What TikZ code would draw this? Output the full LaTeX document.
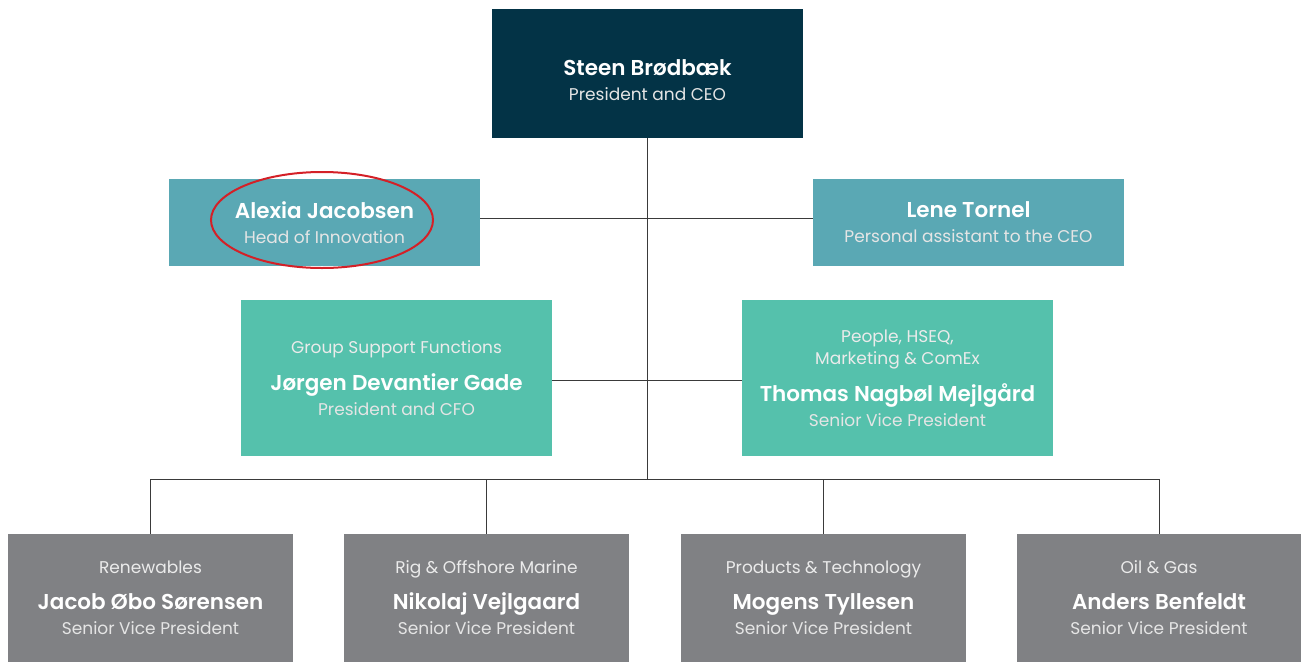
\documentclass[tikz,border=0pt]{standalone}
\usepackage{fontspec}
\setmainfont{Poppins}[BoldFont={Poppins SemiBold}]
\usetikzlibrary{positioning}
\usetikzlibrary{shapes.geometric}

\definecolor{ceoblue}{HTML}{033346}
\definecolor{staffteal}{HTML}{5AA8B4}
\definecolor{groupgreen}{HTML}{55C1AC}
\definecolor{unitgrey}{HTML}{808184}
\definecolor{linegrey}{HTML}{3A3A3A}
\definecolor{ringred}{HTML}{D42027}

\newcommand{\pname}[1]{{\fontsize{21.5}{25}\selectfont\bfseries\color{white}#1}}
\newcommand{\prole}[1]{{\fontsize{17}{25}\selectfont\color{white!90!black}#1}}
\newcommand{\punit}[1]{{\fontsize{17}{25}\selectfont\color{white!92!black}#1}}

\tikzset{
  orgbox/.style={inner sep=0pt, minimum width=311pt, align=center, font=\fontsize{17}{25}\selectfont},
  ceobox/.style={orgbox, fill=ceoblue, minimum height=129pt},
  staffbox/.style={orgbox, fill=staffteal, minimum height=87pt},
  groupbox/.style={orgbox, fill=groupgreen, minimum height=156pt},
  unitbox/.style={orgbox, fill=unitgrey, minimum width=285pt, minimum height=128pt},
  link/.style={draw=linegrey, line width=1pt},
  ring/.style={ellipse, draw=ringred, line width=2pt, minimum width=222pt, minimum height=96pt, inner sep=0pt}
}

\begin{document}
\begin{tikzpicture}[x=1pt, y=-1pt]
  \useasboundingbox (0,0) rectangle (1301,662);

  % top
  \node[ceobox] (ceo) at (647.5,73.5) {\\[4pt]\pname{Steen Brødbæk}\\\prole{President and CEO}};

  % staff
  \node[staffbox] (alexia) at (324.5,222.5) {\pname{Alexia Jacobsen}\\\prole{Head of Innovation}};
  \node[staffbox] (lene) at (968.5,222.5) {\pname{Lene Tornel}\\\prole{Personal assistant to the CEO}};

  % group functions
  \node[groupbox] (jorgen) at (396.5,378) {\punit{Group Support Functions}\\[12pt]\pname{Jørgen Devantier Gade}\\\prole{President and CFO}};
  \node[groupbox] (thomas) at (897.5,378) {\punit{People, HSEQ,}\\[-3pt]\punit{Marketing \& ComEx}\\[12pt]\pname{Thomas Nagbøl Mejlgård}\\\prole{Senior Vice President}};

  % business units
  \node[unitbox] (renew) at (150.5,598) {\punit{Renewables}\\[11pt]\pname{Jacob Øbo Sørensen}\\\prole{Senior Vice President}};
  \node[unitbox] (rig) at (486.5,598) {\punit{Rig \& Offshore Marine}\\[11pt]\pname{Nikolaj Vejlgaard}\\\prole{Senior Vice President}};
  \node[unitbox] (products) at (823.5,598) {\punit{Products \& Technology}\\[11pt]\pname{Mogens Tyllesen}\\\prole{Senior Vice President}};
  \node[unitbox] (oilgas) at (1159,598) {\punit{Oil \& Gas}\\[11pt]\pname{Anders Benfeldt}\\\prole{Senior Vice President}};

  \coordinate (bus) at (646,479);

  % connectors
  \draw[link] (ceo.south) -- (ceo.south |- bus);
  \draw[link] ([yshift=4.5pt]alexia.east) -- ([yshift=4.5pt]lene.west);
  \draw[link] ([yshift=-2pt]jorgen.east) -- ([yshift=-2pt]thomas.west);
  \draw[link] (renew.north) -- (renew.north |- bus) -- (oilgas.north |- bus) -- (oilgas.north);
  \draw[link] (rig.north) -- (rig.north |- bus);
  \draw[link] (products.north) -- (products.north |- bus);

  % highlight
  \node[ring] (ring) at (322,220) {};
\end{tikzpicture}
\end{document}
